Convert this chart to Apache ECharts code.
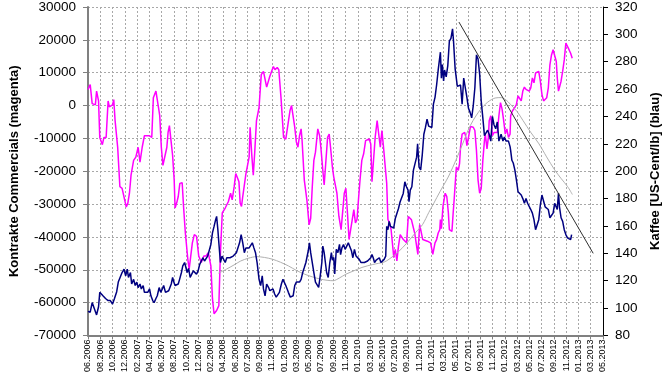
<!DOCTYPE html>
<html><head><meta charset="utf-8">
<script src="https://cdn.jsdelivr.net/npm/echarts@6/dist/echarts.min.js"></script>
<style>html,body{margin:0;padding:0;background:#fff}#c{width:670px;height:375px}</style>
</head><body><div id="c"></div>
<script>
// x positions are in tick units (0 = first tick label "06.2006", 1 = next label, ...)
const tickLabels = ["06.2006","08.2006","10.2006","12.2006","02.2007","04.2007","06.2007","08.2007","10.2007","12.2007","02.2008","04.2008","06.2008","07.2008","09.2008","11.2008","01.2009","03.2009","05.2009","07.2009","09.2009","11.2009","01.2010","03.2010","05.2010","07.2010","09.2010","11.2010","01.2011","03.2011","05.2011","07.2011","09.2011","11.2011","01.2012","03.2012","05.2012","07.2012","09.2012","11.2012","01.2013","03.2013","05.2013"];

const commercials = [[0,4900],[0.18,6400],[0.34,600],[0.6,200],[0.7,4400],[0.86,1400],[0.96,-9700],[1.17,-11900],[1.3,-9700],[1.48,-9700],[1.64,1400],[1.74,-400],[2.0,200],[2.1,1800],[2.21,-4600],[2.42,-12700],[2.6,-24700],[2.78,-25200],[2.99,-28700],[3.12,-30900],[3.25,-29700],[3.38,-26700],[3.51,-21200],[3.72,-16700],[3.9,-15700],[4.09,-12700],[4.24,-17200],[4.42,-12700],[4.6,-9200],[4.76,-9700],[5.02,-9200],[5.2,-9700],[5.33,2400],[5.54,4400],[5.65,4200],[5.75,-600],[5.85,-3100],[5.98,-12700],[6.11,-18200],[6.27,-18500],[6.43,-12700],[6.53,-8200],[6.64,-6100],[6.77,-10700],[6.9,-15200],[7.03,-22700],[7.1,-31200],[7.23,-29700],[7.36,-27700],[7.49,-23700],[7.68,-23500],[7.8,-31200],[7.94,-38800],[8.14,-46800],[8.25,-49800],[8.38,-50300],[8.51,-41800],[8.67,-39300],[8.85,-39800],[9.03,-45800],[9.24,-47800],[9.45,-45800],[9.63,-45800],[9.81,-44800],[10.02,-48800],[10.15,-58800],[10.28,-63400],[10.49,-62400],[10.67,-60900],[10.8,-44800],[10.95,-32700],[11.19,-31200],[11.45,-29200],[11.63,-26700],[11.76,-28700],[11.92,-24700],[12.05,-20700],[12.18,-20500],[12.31,-23200],[12.41,-29700],[12.52,-30700],[12.62,-27700],[12.75,-27700],[12.88,-20700],[13.01,-18200],[13.14,-15700],[13.22,-6600],[13.35,-14700],[13.48,-21200],[13.6,-14000],[13.74,-4600],[13.95,-600],[14.13,9400],[14.31,10400],[14.57,5600],[14.73,5600],[14.83,8900],[14.99,8900],[15.12,11900],[15.25,10900],[15.43,11600],[15.56,10900],[15.74,2400],[15.95,-9700],[16.13,-10200],[16.29,-10200],[16.47,-1600],[16.6,0],[16.73,-600],[16.86,-6600],[16.99,-11000],[17.12,-12700],[17.25,-9200],[17.38,-7100],[17.46,-10700],[17.64,-22700],[17.85,-28700],[18.03,-36300],[18.16,-34300],[18.29,-24700],[18.42,-16700],[18.55,-14200],[18.74,-7100],[18.89,-9200],[18.99,-12700],[19.15,-19700],[19.26,-24200],[19.41,-24200],[19.54,-9700],[19.67,-8700],[19.78,-12700],[19.93,-18700],[20.04,-21700],[20.2,-21700],[20.3,-26700],[20.46,-33700],[20.64,-37800],[20.77,-37800],[20.9,-26700],[21.03,-25200],[21.16,-32700],[21.29,-40800],[21.42,-40300],[21.55,-34700],[21.68,-31700],[21.81,-35700],[21.94,-34700],[22.07,-28000],[22.2,-22000],[22.33,-16700],[22.48,-14700],[22.64,-10700],[22.8,-10700],[22.93,-10200],[23.06,-11700],[23.16,-23200],[23.29,-23700],[23.42,-9700],[23.58,-4600],[23.71,-8700],[23.84,-12700],[23.97,-7600],[24.1,-12700],[24.2,-12700],[24.36,-23700],[24.46,-34700],[24.59,-35700],[24.72,-37800],[24.94,-46300],[25.06,-43800],[25.19,-47300],[25.32,-42800],[25.46,-39300],[25.6,-39800],[25.72,-40800],[25.98,-41800],[26.12,-33800],[26.38,-34800],[26.64,-38800],[26.9,-45300],[27.05,-36300],[27.16,-35800],[27.3,-40800],[27.42,-41300],[27.68,-41300],[27.94,-41800],[28.12,-45300],[28.3,-41800],[28.43,-40800],[28.56,-38800],[28.69,-37800],[28.74,-34700],[28.82,-37500],[28.95,-30700],[29.13,-26700],[29.26,-27700],[29.39,-32700],[29.47,-37800],[29.68,-38300],[29.78,-32700],[29.86,-28700],[30.04,-18700],[30.2,-19700],[30.3,-17700],[30.38,-12700],[30.51,-8700],[30.72,-8200],[30.82,-9700],[30.9,-12200],[31.03,-9700],[31.19,-6400],[31.29,-6100],[31.42,-6600],[31.55,-7600],[31.68,-13700],[31.81,-22700],[31.94,-26700],[32.07,-25200],[32.2,-16700],[32.33,-10700],[32.4,-8700],[32.54,-13200],[32.65,-9700],[32.72,-4600],[32.85,-3100],[32.98,-9200],[33.11,-8200],[33.25,-8200],[33.38,-8200],[33.51,-3100],[33.64,900],[33.77,-1100],[33.9,-4600],[34.03,-8700],[34.16,-7100],[34.29,-9700],[34.42,-8700],[34.47,-3100],[34.62,-1600],[34.81,-600],[34.94,400],[35.07,2900],[35.2,2400],[35.33,1400],[35.46,4400],[35.59,5600],[35.72,4900],[35.85,4900],[35.98,4400],[36.11,5400],[36.24,8400],[36.37,6900],[36.5,9900],[36.63,10400],[36.76,10400],[36.89,7400],[37.02,3400],[37.15,1400],[37.28,900],[37.41,2400],[37.54,5400],[37.67,12400],[37.8,15400],[37.93,17000],[38.06,16500],[38.19,13400],[38.27,8400],[38.37,4400],[38.47,3900],[38.58,7400],[38.71,10400],[38.84,13900],[38.97,19000],[39.1,18500],[39.23,17000],[39.36,15900],[39.49,14400]];

const coffee = [[0,97.6],[0.18,97],[0.34,104],[0.52,99.5],[0.7,95],[0.86,101],[0.96,111.5],[1.12,112],[1.22,109],[1.43,107],[1.64,105.5],[1.82,105.5],[2.0,103],[2.16,107],[2.34,112],[2.47,119],[2.6,120],[2.78,126],[2.94,128.4],[3.07,123.6],[3.2,128.4],[3.3,122.4],[3.46,126],[3.56,117.6],[3.72,121],[3.85,116.5],[3.98,119],[4.09,115],[4.24,117.6],[4.35,114],[4.5,116.5],[4.6,111.5],[4.74,112.7],[4.87,111.5],[5.02,114],[5.13,109],[5.28,105.5],[5.39,104],[5.54,107],[5.65,109],[5.8,115],[5.93,111.5],[6.06,114],[6.17,116.5],[6.32,111.5],[6.43,111.5],[6.58,112.7],[6.69,114],[6.79,117.6],[6.9,122.4],[7.0,119],[7.1,116.5],[7.21,117.6],[7.36,117.6],[7.47,121],[7.62,126],[7.73,130.8],[7.88,133.3],[7.99,133.3],[8.09,126],[8.2,129],[8.33,122.4],[8.46,124.8],[8.59,127.2],[8.72,128.4],[8.85,124.8],[8.98,127.2],[9.11,132],[9.24,133.3],[9.37,136.8],[9.5,134.4],[9.63,135.6],[9.76,138],[9.89,139.2],[10.02,146.5],[10.15,155],[10.28,159.7],[10.41,164.6],[10.49,167],[10.59,157.3],[10.67,147.7],[10.8,133.3],[10.93,138],[11.06,136.8],[11.19,133.3],[11.32,136.8],[11.45,138],[11.58,136.8],[11.71,135.6],[11.84,138],[11.97,136.8],[12.1,140.5],[12.23,140.5],[12.36,147.7],[12.49,153.7],[12.62,147.7],[12.75,140.5],[12.88,144],[13.01,142.9],[13.14,144],[13.27,145.3],[13.4,147.7],[13.53,144],[13.66,140.5],[13.79,133.3],[13.95,121],[14.08,116.5],[14.21,123.6],[14.31,114],[14.44,109],[14.57,117.6],[14.73,115],[14.83,112.7],[14.99,111.5],[15.09,114],[15.22,110.3],[15.35,108],[15.51,109],[15.61,111.5],[15.77,117.6],[15.9,121],[16.03,122.4],[16.13,116.5],[16.24,114],[16.34,111.5],[16.5,108],[16.6,106.7],[16.73,109],[16.86,116.5],[16.99,119],[17.12,117.6],[17.25,119],[17.38,121],[17.51,126],[17.64,129.6],[17.77,133.3],[17.96,141.7],[18.06,147.7],[18.16,140.5],[18.29,133.3],[18.42,126],[18.55,119],[18.68,120.2],[18.81,115.2],[18.94,123.6],[19.07,133.3],[19.15,145.3],[19.26,140.5],[19.36,133.3],[19.46,126],[19.59,122.4],[19.72,133.3],[19.85,140.5],[19.93,135],[20.04,137],[20.12,125],[20.25,142.9],[20.38,140.5],[20.51,146.5],[20.6,139],[20.71,144],[20.84,146.5],[20.97,142.9],[21.1,144],[21.23,147.7],[21.34,146.5],[21.49,141.7],[21.6,136.8],[21.73,142.9],[21.86,138],[21.99,139.2],[22.12,135.6],[22.27,133.3],[22.4,132],[22.54,133.3],[22.67,133.3],[22.8,134.4],[22.93,133.3],[23.06,136.8],[23.16,139.2],[23.26,136.8],[23.37,133.3],[23.5,135],[23.63,134.4],[23.76,136.8],[23.89,133.3],[24.02,134.4],[24.15,135.6],[24.28,138],[24.36,159.7],[24.46,157.3],[24.56,163.4],[24.67,159.7],[24.8,161],[24.93,158.5],[25.06,165.4],[25.19,166.6],[25.32,172.8],[25.45,177.5],[25.58,176.3],[25.71,183.8],[25.84,192.3],[25.97,188.7],[26.1,186.2],[26.18,177.8],[26.28,186.2],[26.41,188.7],[26.54,200.8],[26.7,202],[26.8,210.3],[26.88,220],[27.0,203],[27.13,201],[27.26,212],[27.39,227],[27.52,232],[27.65,238],[27.78,233],[27.91,234],[28.04,232],[28.17,249],[28.3,254],[28.43,263],[28.56,274],[28.64,275],[28.74,287],[28.82,268],[28.9,278],[29.0,266],[29.08,274],[29.21,269],[29.34,277],[29.47,295],[29.6,297],[29.73,304],[29.81,295],[29.94,275],[30.12,262],[30.25,262],[30.38,263],[30.51,249],[30.64,268],[30.77,269],[30.9,254],[31.03,246],[31.16,243],[31.29,239],[31.42,248],[31.55,261],[31.68,285],[31.81,282],[31.94,271],[32.07,251],[32.2,239],[32.33,226],[32.46,228],[32.59,230],[32.72,227],[32.85,222],[32.98,240],[33.11,234],[33.25,231],[33.38,236],[33.51,222],[33.69,227],[33.84,222],[33.95,225],[34.1,222],[34.29,222],[34.42,218],[34.47,215],[34.57,208],[34.68,206],[34.81,201],[34.94,193.5],[35.07,185],[35.2,184],[35.33,182.6],[35.46,180],[35.59,176.6],[35.72,180],[35.85,176.6],[35.98,178],[36.11,172],[36.24,169.4],[36.37,164.6],[36.5,157.3],[36.63,156],[36.76,164.6],[36.89,175.4],[37.02,182.6],[37.15,181.4],[37.28,174],[37.41,175.4],[37.54,172],[37.67,166],[37.8,167],[37.93,169.4],[38.06,176.6],[38.19,178],[38.27,172],[38.37,184],[38.45,174],[38.58,166],[38.71,163.4],[38.84,157.3],[38.97,153.7],[39.1,151.3],[39.23,152.5],[39.36,150],[39.44,153.7]];

const coffeeAvg = [[10.63,125.5],[11.3,128.5],[12.0,132],[12.45,134.4],[13.1,136.5],[13.75,137.6],[14.4,137],[15.05,135.7],[15.7,133.5],[16.35,130.8],[17.0,127.5],[17.66,124.8],[18.3,122.8],[18.95,121.2],[19.5,120.3],[20.0,120],[20.5,122],[21.04,124.8],[21.7,127.3],[22.34,129.7],[23.2,131.8],[24.16,133.7],[24.55,135.7],[25.3,141],[26.0,147.5],[26.7,155],[27.28,161],[27.8,170],[28.2,176.6],[28.7,185],[29.24,193.5],[29.5,198],[30.0,208],[30.66,222.4],[31.0,230],[31.4,237],[32.0,245],[32.6,250.5],[33.2,253.5],[33.7,253.8],[34.1,252],[34.44,249],[35.0,243.5],[35.48,237],[36.1,228.5],[36.78,220],[37.4,210.5],[38.08,200.7],[38.6,194.5],[39.12,188.7],[39.5,183]];

const trendLine = [[30.25,309],[41.2,140]];

const FONT = '"Liberation Sans", Arial, sans-serif';
const gridDash = {color:'#a8a8a8', width:1, type:[2,2]};

const chart = echarts.init(document.getElementById('c'), null, {renderer:'canvas'});
chart.setOption({
  animation:false,
  backgroundColor:'#fff',
  grid:{left:76, right:55, top:5, bottom:38, containLabel:false},
  xAxis:{
    type:'value', min:0, max:tickLabels.length-1, interval:1,
    axisLine:{show:true, onZero:false, lineStyle:{color:'#808080', width:2}},
    axisTick:{show:true, length:4, lineStyle:{color:'#808080'}},
    splitLine:{show:true, lineStyle:gridDash},
    axisLabel:{rotate:90, fontSize:9, fontFamily:FONT, color:'#000', margin:4,
      formatter:v=>tickLabels[Math.round(v)] || ''}
  },
  yAxis:[{
    type:'value', position:'left', min:-70000, max:30000, interval:10000,
    name:'Kontrakte Commercials (magenta)', nameLocation:'middle', nameGap:67,
    nameTextStyle:{fontFamily:FONT, fontSize:13, fontWeight:'bold', color:'#000'},
    axisLine:{show:true, onZero:false, lineStyle:{color:'#808080', width:2}},
    axisTick:{show:true, length:5, lineStyle:{color:'#808080'}},
    splitLine:{show:true, lineStyle:gridDash},
    axisLabel:{fontSize:13.5, fontFamily:FONT, color:'#000', margin:12, formatter:v=>String(v)}
  },{
    type:'value', position:'right', min:80, max:320, interval:20,
    name:'Kaffee [US-Cent/lb] (blau)', nameLocation:'middle', nameGap:46, nameRotate:90,
    nameTextStyle:{fontFamily:FONT, fontSize:13, fontWeight:'bold', color:'#000'},
    axisLine:{show:true, onZero:false, lineStyle:{color:'#000', width:1}},
    axisTick:{show:true, length:5, lineStyle:{color:'#000'}},
    splitLine:{show:false},
    axisLabel:{fontSize:13.5, fontFamily:FONT, color:'#000', margin:12, formatter:v=>String(v)}
  }],
  series:[
    {type:'line', yAxisIndex:0, data:commercials, showSymbol:false, symbol:'none',
      lineStyle:{color:'#ff00ff', width:1.5}},
    {type:'line', yAxisIndex:1, data:coffeeAvg, showSymbol:false, symbol:'none', smooth:0.3,
      lineStyle:{color:'#b0b0b0', width:1}},
    {type:'line', yAxisIndex:1, data:coffee, showSymbol:false, symbol:'none',
      lineStyle:{color:'#000080', width:1.5}},
    {type:'line', yAxisIndex:1, data:trendLine, showSymbol:false, symbol:'none',
      lineStyle:{color:'#303030', width:1}}
  ]
});
</script></body></html>
